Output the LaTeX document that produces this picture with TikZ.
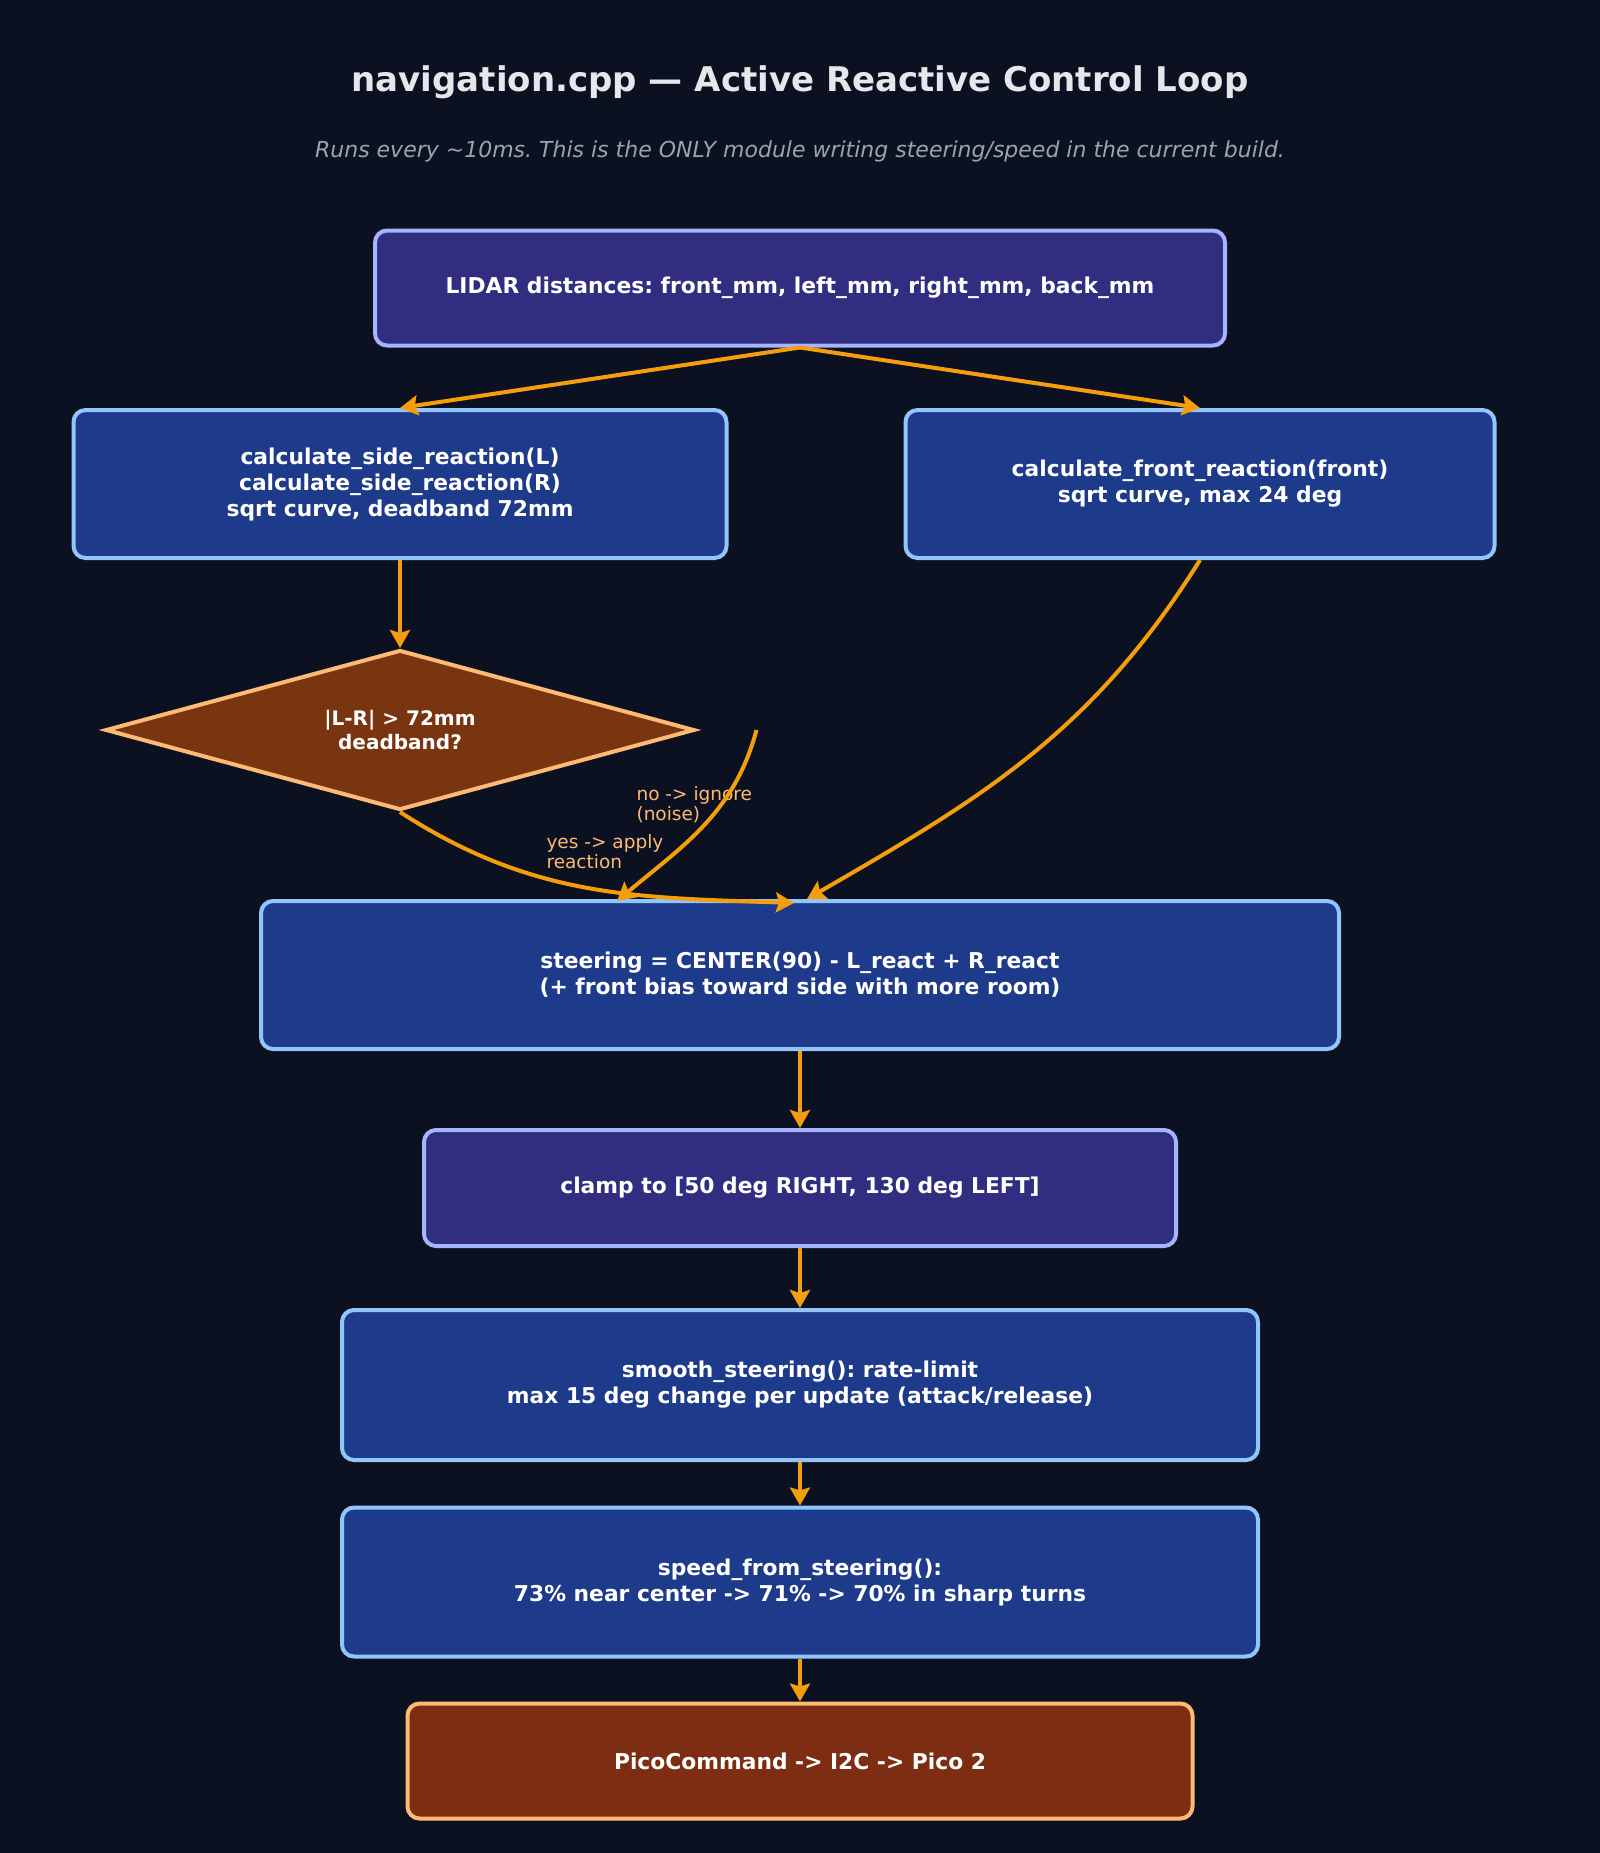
\documentclass[tikz,border=0pt]{standalone}
\usepackage{fontspec}
\setmainfont{DejaVu Sans}[BoldFont={DejaVu Sans Bold},ItalicFont={DejaVu Sans Oblique}]
\usetikzlibrary{shapes.geometric}
\usetikzlibrary{arrows.meta}
\frenchspacing

\definecolor{navbg}{HTML}{0B1120}
\definecolor{navtitle}{HTML}{E5E7EB}
\definecolor{navsub}{HTML}{9CA3AF}
\definecolor{indigofill}{HTML}{312E81}
\definecolor{indigoline}{HTML}{A5B4FC}
\definecolor{bluefill}{HTML}{1E3A8A}
\definecolor{blueline}{HTML}{93C5FD}
\definecolor{amberfill}{HTML}{78350F}
\definecolor{rustfill}{HTML}{7C2D12}
\definecolor{peachline}{HTML}{FDBA74}
\definecolor{flowcol}{HTML}{F59E0B}

\begin{document}
\begin{tikzpicture}[x=1pt,y=-1pt,
  box/.style={draw, rounded corners=12pt, line width=4pt, text=white,
    align=center, font=\bfseries\fontsize{21.8}{26}\selectfont},
  inbox/.style={box, fill=indigofill, draw=indigoline},
  calcbox/.style={box, fill=bluefill, draw=blueline},
  outbox/.style={box, fill=rustfill, draw=peachline},
  decision/.style={diamond, aspect=3.6, draw=peachline, fill=amberfill, line width=4pt,
    inner sep=0pt, text=white, align=center,
    font=\bfseries\fontsize{20}{24}\selectfont},
  flow/.style={draw=flowcol, line width=4pt,
    -{Stealth[length=18pt,width=20pt,inset=3pt]}},
  flowlabel/.style={text=peachline, align=left, anchor=west,
    font=\fontsize{18.5}{20}\selectfont}]

  %% page and background
  \useasboundingbox (0,0) rectangle (1600,1853);
  \fill[navbg] (0,0) rectangle (1600,1853);

  %% heading
  \node[text=navtitle, font=\bfseries\fontsize{34}{40}\selectfont] (title) at (800,82)
    {navigation.cpp — Active Reactive Control Loop};
  \node[text=navsub, font=\itshape\fontsize{22}{26}\selectfont] (subtitle) at (800,151)
    {Runs every \textasciitilde10ms. This is the ONLY module writing steering/speed in the current build.};

  %% sensor input
  \node[inbox, minimum width=850pt, minimum height=115pt] (lidar) at (800,288)
    {LIDAR distances: front\_mm, left\_mm, right\_mm, back\_mm};

  %% the two reactions
  \node[calcbox, minimum width=653pt, minimum height=148pt] (side) at (400,484)
    {calculate\_side\_reaction(L)\\calculate\_side\_reaction(R)\\sqrt curve, deadband 72mm};
  \node[calcbox, minimum width=589pt, minimum height=148pt] (front) at (1200,484)
    {calculate\_front\_reaction(front)\\sqrt curve, max 24 deg};

  %% deadband test
  \node[decision, minimum width=589pt, minimum height=160pt] (dec) at (400,730)
    {|L-R| > 72mm\\deadband?};

  %% steering chain
  \node[calcbox, minimum width=1078pt, minimum height=148pt] (steer) at (800,975)
    {steering = CENTER(90) - L\_react + R\_react\\(+ front bias toward side with more room)};
  \node[inbox, minimum width=752pt, minimum height=116pt] (clamp) at (800,1188)
    {clamp to [50 deg RIGHT, 130 deg LEFT]};
  \node[calcbox, minimum width=916pt, minimum height=150pt] (smooth) at (800,1385)
    {smooth\_steering(): rate-limit\\max 15 deg change per update (attack/release)};
  \node[calcbox, minimum width=916pt, minimum height=149pt] (speed) at (800,1582)
    {speed\_from\_steering():\\73\% near center -> 71\% -> 70\% in sharp turns};
  \node[outbox, minimum width=785pt, minimum height=115pt] (pico) at (800,1761)
    {PicoCommand -> I2C -> Pico 2};

  %% branch labels
  \node[flowlabel] (nolabel) at (633,805) {no -> ignore\\(noise)};
  \node[flowlabel] (yeslabel) at (543,852) {yes -> apply\\reaction};

  %% free ends on and beside the steering box
  \coordinate (noout) at ([xshift=60pt]dec.east);
  \coordinate (noin) at ([xshift=-183pt,yshift=-2pt]steer.north);

  %% connectors
  \draw[flow] (lidar.south) -- (side.north);
  \draw[flow] (lidar.south) -- (front.north);
  \draw[flow] (side.south) -- (dec.north);
  \draw[flow] (dec.south) to[out=-33, in=178] ([xshift=-6pt,yshift=-4pt]steer.north);
  \draw[flow] (noout) to[out=-105, in=40] (noin);
  \draw[flow] (front.south) to[out=-122, in=30] ([xshift=7pt]steer.north);
  \foreach \mya/\myb in {steer/clamp, clamp/smooth, smooth/speed, speed/pico}
  {
    \draw[flow] (\mya.south) -- (\myb.north);
  }

\end{tikzpicture}
\end{document}
